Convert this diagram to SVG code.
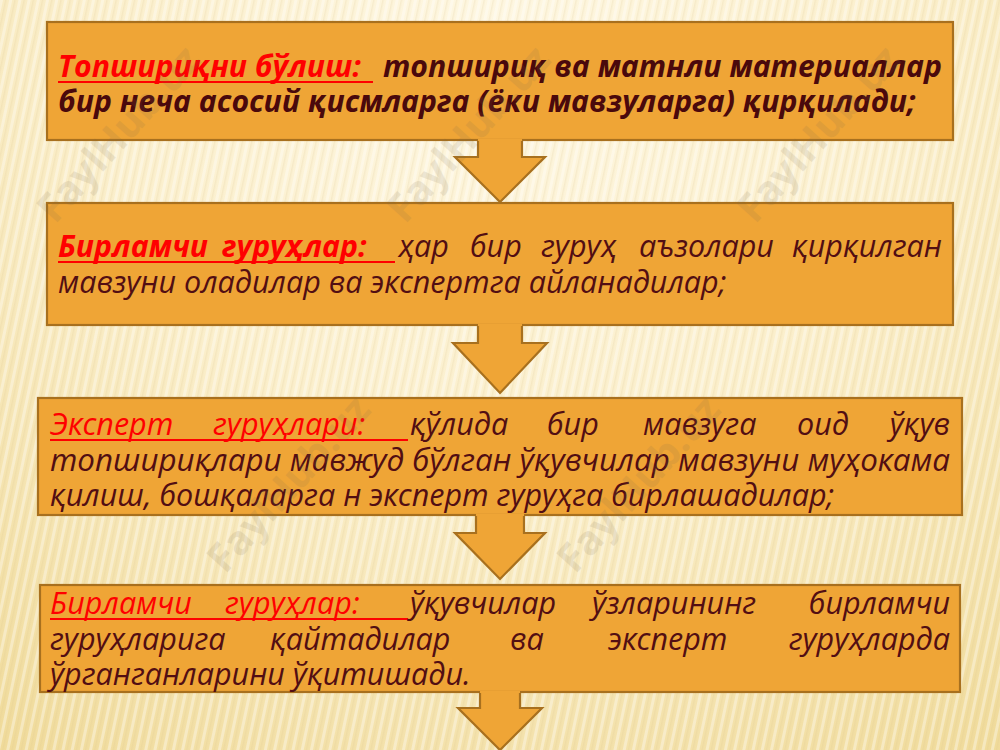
<svg xmlns="http://www.w3.org/2000/svg" width="1000" height="750" viewBox="0 0 1000 750">
  <defs>
    <radialGradient id="bg" cx="500" cy="40" r="900" gradientUnits="userSpaceOnUse">
      <stop offset="0" stop-color="#FEF7E2"/>
      <stop offset="0.45" stop-color="#FBEFCC"/>
      <stop offset="1" stop-color="#EFD996"/>
    </radialGradient>
    <pattern id="stripes" width="9" height="40" patternUnits="userSpaceOnUse" patternTransform="rotate(12)">
      <rect x="0" y="0" width="3" height="40" fill="#FFFFFF" opacity="0.35"/>
      <rect x="5" y="0" width="1.5" height="40" fill="#D9C28A" opacity="0.18"/>
    </pattern>
    <style>
      .box { fill: #EFA536; stroke: #A8701E; stroke-width: 2.2; }
      .arrowFill { fill: #EFA536; stroke: none; }
      .arrowLine { fill: none; stroke: #A8701E; stroke-width: 2.2; stroke-linejoin: miter; }
      .t { font-family: "Open Sans", "Noto Sans", "DejaVu Sans", sans-serif; font-style: italic; font-size: 30.5px; fill: #520E13; }
      .b { font-weight: bold; font-size: 30.2px; fill: #4A090C; }
      .lbl { fill: #FF0000; }
      .end { text-anchor: end; }
      .ul { stroke: #FF0000; stroke-width: 2; }
      .wm { font-family: "Open Sans", "Noto Sans", sans-serif; font-weight: bold; font-size: 40px; fill: #7A6A50; opacity: 0.13; }
    </style>
  </defs>

  <rect x="0" y="0" width="1000" height="750" fill="url(#bg)"/>
  <rect x="0" y="0" width="1000" height="750" fill="url(#stripes)"/>

  <g id="node1">
    <rect class="box" x="47" y="22" width="906" height="118"/>
    <text class="t b lbl" x="58" y="77">Топшириқни бўлиш:</text>
    <line class="ul" x1="58" y1="82" x2="373" y2="82"/>
    <text class="t b" x="383" y="77" textLength="559" lengthAdjust="spacing">топшириқ ва матнли материаллар</text>
    <text class="t b" x="58" y="112">бир неча асосий қисмларга (ёки мавзуларга) қирқилади;</text>
  </g>

  <g id="node2">
    <rect class="box" x="47" y="203" width="906" height="122"/>
    <text class="t b lbl" x="58" y="257">Бирламчи</text>
    <text class="t b lbl" x="222" y="257">гуруҳлар:</text>
    <line class="ul" x1="58" y1="262" x2="395" y2="262"/>
    <text class="t" x="398" y="257">ҳар</text>
    <text class="t" x="470" y="257">бир</text>
    <text class="t" x="541" y="257">гуруҳ</text>
    <text class="t" x="639" y="257">аъзолари</text>
    <text class="t end" x="942" y="257">қирқилган</text>
    <text class="t" x="58" y="293">мавзуни оладилар ва экспертга айланадилар;</text>
  </g>

  <g id="node3">
    <rect class="box" x="38" y="398" width="924" height="117"/>
    <text class="t lbl" x="50" y="435">Эксперт</text>
    <text class="t lbl" x="213" y="435">гуруҳлари:</text>
    <line class="ul" x1="50" y1="440" x2="408" y2="440"/>
    <text class="t" x="410" y="435">қўлида</text>
    <text class="t" x="547" y="435">бир</text>
    <text class="t" x="643" y="435">мавзуга</text>
    <text class="t" x="797" y="435">оид</text>
    <text class="t end" x="950" y="435">ўқув</text>
    <text class="t" x="50" y="471" textLength="900" lengthAdjust="spacingAndGlyphs">топшириқлари мавжуд бўлган ўқувчилар мавзуни муҳокама</text>
    <text class="t" x="50" y="506">қилиш, бошқаларга н эксперт гуруҳга бирлашадилар;</text>
  </g>

  <g id="node4">
    <rect class="box" x="40" y="585" width="920" height="107"/>
    <text class="t lbl" x="50" y="614">Бирламчи</text>
    <text class="t lbl" x="225" y="614">гуруҳлар:</text>
    <line class="ul" x1="50" y1="619" x2="408" y2="619"/>
    <text class="t" x="410" y="614">ўқувчилар</text>
    <text class="t" x="592" y="614">ўзларининг</text>
    <text class="t end" x="950" y="614">бирламчи</text>
    <text class="t" x="50" y="650">гуруҳларига</text>
    <text class="t" x="270" y="650">қайтадилар</text>
    <text class="t" x="510" y="650">ва</text>
    <text class="t" x="608" y="650">эксперт</text>
    <text class="t end" x="950" y="650">гуруҳларда</text>
    <text class="t" x="50" y="685">ўрганганларини ўқитишади.</text>
  </g>

  <g id="connectors">
    <path class="arrowFill" d="M478 139 L478 157 L455 157 L500 202 L545 157 L522 157 L522 139 Z"/>
    <path class="arrowLine" d="M478 141 L478 157 L455 157 L500 202 L545 157 L522 157 L522 141"/>
    <path class="arrowFill" d="M478 324 L478 343 L453 343 L500 393 L547 343 L522 343 L522 324 Z"/>
    <path class="arrowLine" d="M478 326 L478 343 L453 343 L500 393 L547 343 L522 343 L522 326"/>
    <path class="arrowFill" d="M476 514 L476 533 L455 533 L500 579 L545 533 L524 533 L524 514 Z"/>
    <path class="arrowLine" d="M476 516 L476 533 L455 533 L500 579 L545 533 L524 533 L524 516"/>
    <path class="arrowFill" d="M480 691 L480 708 L458 708 L500 750 L542 708 L520 708 L520 691 Z"/>
    <path class="arrowLine" d="M480 693 L480 708 L458 708 L500 750 L542 708 L520 708 L520 693"/>
  </g>

  <g id="watermarks">
    <text class="wm" transform="translate(55,225) rotate(-48)">FaylHub.uz</text>
    <text class="wm" transform="translate(405,225) rotate(-48)">FaylHub.uz</text>
    <text class="wm" transform="translate(755,225) rotate(-48)">FaylHub.uz</text>
    <text class="wm" transform="translate(225,575) rotate(-48)">FaylHub.uz</text>
    <text class="wm" transform="translate(575,575) rotate(-48)">FaylHub.uz</text>
  </g>
</svg>
